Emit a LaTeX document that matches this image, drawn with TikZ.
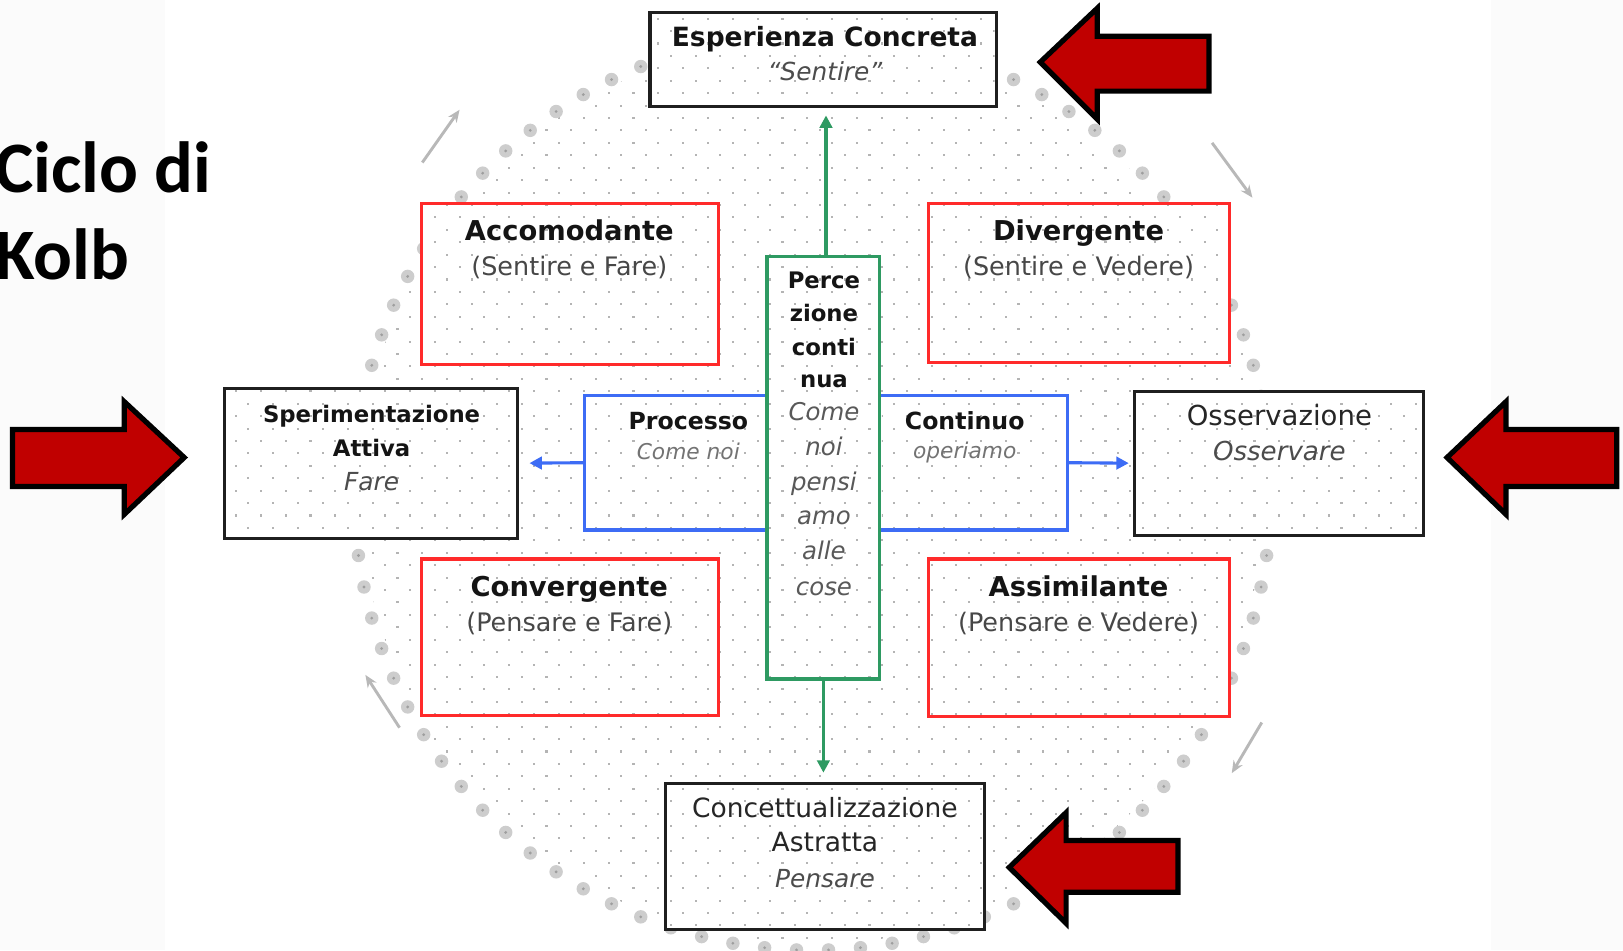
\documentclass[tikz,border=0pt]{standalone}
\usepackage{fontspec}
\setmainfont{DejaVu Sans}
\newfontfamily\titlefont{Carlito}
\usetikzlibrary{arrows.meta,fit,calc}
\definecolor{redarr}{HTML}{C00000}
\definecolor{boxred}{HTML}{FF2A2A}
\definecolor{boxblue}{HTML}{3D6CF5}
\definecolor{boxgreen}{HTML}{2E9A62}
\definecolor{dotc}{HTML}{B4B4B4}
\definecolor{blobc}{HTML}{CDCDCD}
\newcommand\dotfield[4]{%
 \pgfmathtruncatemacro\dfia{floor((#1)/24)-1}%
 \pgfmathtruncatemacro\dfib{ceil((#3)/24)+1}%
 \pgfmathtruncatemacro\dfja{max(floor((#2)/12)-1,0)}%
 \pgfmathtruncatemacro\dfjb{ceil((#4)/12)+1}%
 \foreach \j in {\dfja,...,\dfjb}{%
  \pgfmathsetmacro\dfoff{12*mod(\j,2)}%
  \foreach \i in {\dfia,...,\dfib}{%
   \fill[dotc] ({24*\i+\dfoff-1},{12*\j+5}) rectangle ++(2,2);}}}
\newcommand\dbox[6]{%
 \node[#6, fit={(#2,#3)(#4,#5)}] (#1) {};
 \begin{scope}\clip (#2+2,#3+2) rectangle (#4-2,#5-2); \dotfield{#2}{#3}{#4}{#5}\end{scope}}
\begin{document}
\begin{tikzpicture}[x=0.5pt,y=-0.5pt,
  bk/.style={draw=black!88, line width=1.5pt, fill=white, inner sep=0pt},
  rd/.style={draw=boxred, line width=1.5pt, fill=white, inner sep=0pt},
  bl/.style={draw=boxblue, line width=1.5pt, fill=white, inner sep=0pt},
  gr/.style={draw=boxgreen, line width=1.5pt, fill=white, inner sep=0pt},
  tb/.style={font=\bfseries\fontsize{12.8}{14}\selectfont, text=black!92, anchor=base, inner sep=0pt},
  tr/.style={font=\fontsize{12.8}{14}\selectfont, text=black!85, anchor=base, inner sep=0pt},
  tsub/.style={font=\fontsize{12.3}{14}\selectfont, text=black!72, anchor=base, inner sep=0pt},
  tit/.style={font=\itshape\fontsize{12}{14}\selectfont, text=black!70, anchor=base, inner sep=0pt},
  tsm/.style={font=\bfseries\fontsize{11.4}{13}\selectfont, text=black!92, anchor=base, inner sep=0pt},
  tsmi/.style={font=\itshape\fontsize{10.5}{12}\selectfont, text=black!55, anchor=base, inner sep=0pt},
  tgi/.style={font=\itshape\fontsize{11.8}{13}\selectfont, text=black!65, anchor=base, inner sep=0pt},
  bluearr/.style={draw=boxblue, line width=1.5pt, -{Triangle[length=6pt,width=6pt]}},
  greenarr/.style={draw=boxgreen, line width=1.5pt, -{Triangle[length=6pt,width=6pt]}},
  blockarr/.style={fill=redarr, draw=black, line width=2.5pt, line join=miter},
  markarr/.style={draw=black!28, line width=1.4pt, -{Stealth[length=6pt,width=5pt]}}]
\useasboundingbox (0,0) rectangle (1568,918);
% faint side strips
\fill[black!1.5] (0,0) rectangle (159,918);
\fill[black!1.5] (1440,0) rectangle (1568,918);
% dotted disc
\begin{scope}
 \clip (785,475) circle[radius=437];
 \dotfield{340}{30}{1230}{918}
\end{scope}
% ring of blobs
\foreach \a in {0,4,...,356}{
  \fill[blobc] ($(785,475)+(\a:443)$) circle[radius=6.5];
  \fill[black!38] ($(785,475)+(\a:443)$) circle[radius=1.5];
}
% small cycle marks
\coordinate (m1a) at (408,157); \coordinate (m1b) at (444,106);
\coordinate (m2a) at (1171,138); \coordinate (m2b) at (1210,191);
\coordinate (m3a) at (1219,698); \coordinate (m3b) at (1190,747);
\coordinate (m4a) at (386,703); \coordinate (m4b) at (353,652);
\draw[markarr] (m1a) -- (m1b);
\draw[markarr] (m2a) -- (m2b);
\draw[markarr] (m3a) -- (m3b);
\draw[markarr] (m4a) -- (m4b);
% boxes
\dbox{esp}{628}{12}{963}{103}{bk}
\dbox{acc}{407}{197}{694}{352}{rd}
\dbox{div}{897}{197}{1188}{350}{rd}
\dbox{conv}{407}{540}{694}{691}{rd}
\dbox{ass}{897}{540}{1188}{692}{rd}
\dbox{sper}{217}{375}{500}{520}{bk}
\dbox{oss}{1096}{378}{1375}{517}{bk}
\dbox{conc}{643}{757}{951}{898}{bk}
\dbox{proc}{565}{382}{741}{512}{bl}
\dbox{cont}{850}{382}{1031}{512}{bl}
\dbox{perc}{741}{248}{850}{656}{gr}
% connectors
\draw[bluearr, shorten >=5pt] (proc.west) -- (sper.east);
\draw[bluearr, shorten >=2pt] (cont.east) -- (oss.west);
\draw[greenarr, shorten >=3.5pt] ([xshift=1.25pt]perc.north) -- ([xshift=1.25pt]esp.south);
\draw[greenarr, shorten >=4.5pt] (perc.south) -- (perc.south |- conc.north);
% texts
\node[tb] (espa) at (797,45) {Esperienza Concreta};
\node[tit] (espb) at (797,78) {“Sentire”};
\node[tb, font=\bfseries\fontsize{13.2}{14}\selectfont] (acca) at (550,232) {Accomodante};
\node[tsub] (accb) at (550,266) {(Sentire e Fare)};
\node[tb, font=\bfseries\fontsize{13.2}{14}\selectfont] (diva) at (1042,232) {Divergente};
\node[tsub] (divb) at (1042,266) {(Sentire e Vedere)};
\node[tb, font=\bfseries\fontsize{13.2}{14}\selectfont] (conva) at (550,576) {Convergente};
\node[tsub] (convb) at (550,610) {(Pensare e Fare)};
\node[tb, font=\bfseries\fontsize{13.2}{14}\selectfont] (assa) at (1042,576) {Assimilante};
\node[tsub] (assb) at (1042,610) {(Pensare e Vedere)};
\node[tb, font=\bfseries\fontsize{11}{13}\selectfont] (spera) at (359,408) {Sperimentazione};
\node[tb, font=\bfseries\fontsize{11}{13}\selectfont] (sperb) at (359,441) {Attiva};
\node[tit] (sperc) at (359,474) {Fare};
\node[tr, font=\fontsize{13.3}{14}\selectfont] (ossa) at (1236,411) {Osservazione};
\node[tit, font=\itshape\fontsize{12.6}{14}\selectfont] (ossb) at (1236,445) {Osservare};
\node[tr] (conca) at (797,790) {Concettualizzazione};
\node[tr] (concb) at (797,823) {Astratta};
\node[tit] (concc) at (797,857) {Pensare};
\node[tsm] (proca) at (665,415) {Processo};
\node[tsmi] (procb) at (665,444) {Come noi};
\node[tsm] (conta) at (932,415) {Continuo};
\node[tsmi] (contb) at (932,443) {operiamo};
\node[tsm, font=\bfseries\fontsize{11}{13}\selectfont] (p1) at (796,279) {Perce};
\node[tsm, font=\bfseries\fontsize{11}{13}\selectfont] (p2) at (796,311) {zione};
\node[tsm, font=\bfseries\fontsize{11}{13}\selectfont] (p3) at (796,343) {conti};
\node[tsm, font=\bfseries\fontsize{11}{13}\selectfont] (p4) at (796,374) {nua};
\node[tgi] (p5) at (796,406) {Come};
\node[tgi] (p6) at (796,440) {noi};
\node[tgi] (p7) at (796,474) {pensi};
\node[tgi] (p8) at (796,507) {amo};
\node[tgi] (p9) at (796,541) {alle};
\node[tgi] (p10) at (796,575) {cose};
% title
\node[font=\titlefont\bfseries\fontsize{35}{40}\selectfont, anchor=base west, inner sep=0pt] (t1) at (-5,186) {Ciclo di};
\node[font=\titlefont\bfseries\fontsize{35}{40}\selectfont, anchor=base west, inner sep=0pt] (t2) at (-5,270) {Kolb};
% red block arrows
\draw[blockarr] (1005,60) -- (1060,8) -- (1060,35) -- (1168,35) -- (1168,88) -- (1060,88) -- (1060,115) -- cycle;
\draw[blockarr] (178,442) -- (120,388) -- (120,415) -- (12,415) -- (12,470) -- (120,470) -- (120,497) -- cycle;
\draw[blockarr] (1398,442) -- (1455,388) -- (1455,415) -- (1562,415) -- (1562,470) -- (1455,470) -- (1455,497) -- cycle;
\draw[blockarr] (975,838) -- (1030,785) -- (1030,812) -- (1138,812) -- (1138,862) -- (1030,862) -- (1030,892) -- cycle;
\end{tikzpicture}
\end{document}
